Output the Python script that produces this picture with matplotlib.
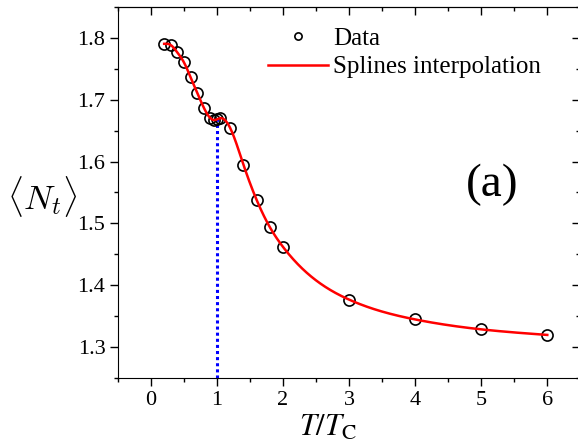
import numpy as np
import matplotlib

matplotlib.use("Agg")
import matplotlib.pyplot as plt
from matplotlib.ticker import MultipleLocator

plt.rcParams["font.family"] = ["Liberation Serif", "DejaVu Serif"]
plt.rcParams["mathtext.fontset"] = "stix"

# values
t_ratio = [0.2, 0.3, 0.4, 0.5, 0.6, 0.7, 0.8, 0.9, 0.95, 1.0, 1.05,
           1.2, 1.4, 1.6, 1.8, 2.0, 3.0, 4.0, 5.0, 6.0]
n_t = [1.790, 1.788, 1.776, 1.760, 1.736, 1.711, 1.687, 1.670, 1.667, 1.668, 1.670,
       1.654, 1.595, 1.538, 1.494, 1.462, 1.377, 1.345, 1.329, 1.320]
t_critical = 1.0


def natural_spline(x, y, xs):
    """Natural cubic spline through (x, y), evaluated at xs."""
    x = np.asarray(x, float)
    y = np.asarray(y, float)
    n = len(x)
    h = np.diff(x)
    A = np.zeros((n, n))
    b = np.zeros(n)
    A[0, 0] = A[-1, -1] = 1.0
    for i in range(1, n - 1):
        A[i, i - 1] = h[i - 1]
        A[i, i] = 2 * (h[i - 1] + h[i])
        A[i, i + 1] = h[i]
        b[i] = 3 * ((y[i + 1] - y[i]) / h[i] - (y[i] - y[i - 1]) / h[i - 1])
    c = np.linalg.solve(A, b)
    bb = (y[1:] - y[:-1]) / h - h * (2 * c[:-1] + c[1:]) / 3
    d = (c[1:] - c[:-1]) / (3 * h)
    idx = np.clip(np.searchsorted(x, xs) - 1, 0, n - 2)
    dx = xs - x[idx]
    return y[idx] + bb[idx] * dx + c[idx] * dx ** 2 + d[idx] * dx ** 3


xs = np.linspace(t_ratio[0], t_ratio[-1], 600)
ys = natural_spline(t_ratio, n_t, xs)
y_at_tc = natural_spline(t_ratio, n_t, np.array([t_critical]))[0]

fig = plt.figure(figsize=(5.78, 4.44), dpi=100)
ax = fig.add_axes([0.204, 0.148, 0.800, 0.837])

ax.plot([t_critical, t_critical], [1.25, y_at_tc], color="#0000ff",
        linestyle=(0, (1, 1)), linewidth=2.2, zorder=1)
ax.plot(t_ratio, n_t, linestyle="none", marker="o", markersize=8,
        markerfacecolor="none", markeredgecolor="black", markeredgewidth=1.2,
        label="Data", zorder=2)
ax.plot(xs, ys, color="red", linewidth=1.8, label="Splines interpolation", zorder=3)

ax.set_xlim(-0.5, 6.5)
ax.set_ylim(1.25, 1.85)
ax.xaxis.set_major_locator(MultipleLocator(1))
ax.xaxis.set_minor_locator(MultipleLocator(0.5))
ax.yaxis.set_major_locator(MultipleLocator(0.1))
ax.yaxis.set_minor_locator(MultipleLocator(0.05))
ax.tick_params(which="both", direction="out", labelsize=16, width=1)
ax.tick_params(which="major", length=5.5)
ax.tick_params(which="minor", length=3)
ax.tick_params(axis="x", pad=4)

top = ax.secondary_xaxis("top")
top.xaxis.set_major_locator(MultipleLocator(1))
top.xaxis.set_minor_locator(MultipleLocator(0.5))
top.tick_params(which="both", direction="in", labeltop=False, width=1)
top.tick_params(which="major", length=5.5)
top.tick_params(which="minor", length=3)
right = ax.secondary_yaxis("right")
right.yaxis.set_major_locator(MultipleLocator(0.1))
right.yaxis.set_minor_locator(MultipleLocator(0.05))
right.tick_params(which="both", direction="in", labelright=False, width=1)
right.tick_params(which="major", length=5.5)
right.tick_params(which="minor", length=3)

ax.set_xlabel(r"$T/T_\mathrm{C}$", fontsize=22)
ax.xaxis.set_label_coords(0.455, -0.095)
ax.set_ylabel(r"$\langle N_t\rangle$", fontsize=25, rotation=0,
              math_fontfamily="cm", va="center")
ax.yaxis.set_label_coords(-0.165, 0.49)
ax.text(5.17, 1.562, "(a)", fontsize=34, ha="center", va="center")

ax.legend(loc="upper left", bbox_to_anchor=(0.325, 0.945), frameon=False,
          fontsize=18, markerscale=0.65, handlelength=2.4, handletextpad=0.2,
          labelspacing=0.25, borderaxespad=0, borderpad=0)

fig.savefig("out.png", dpi=100)
